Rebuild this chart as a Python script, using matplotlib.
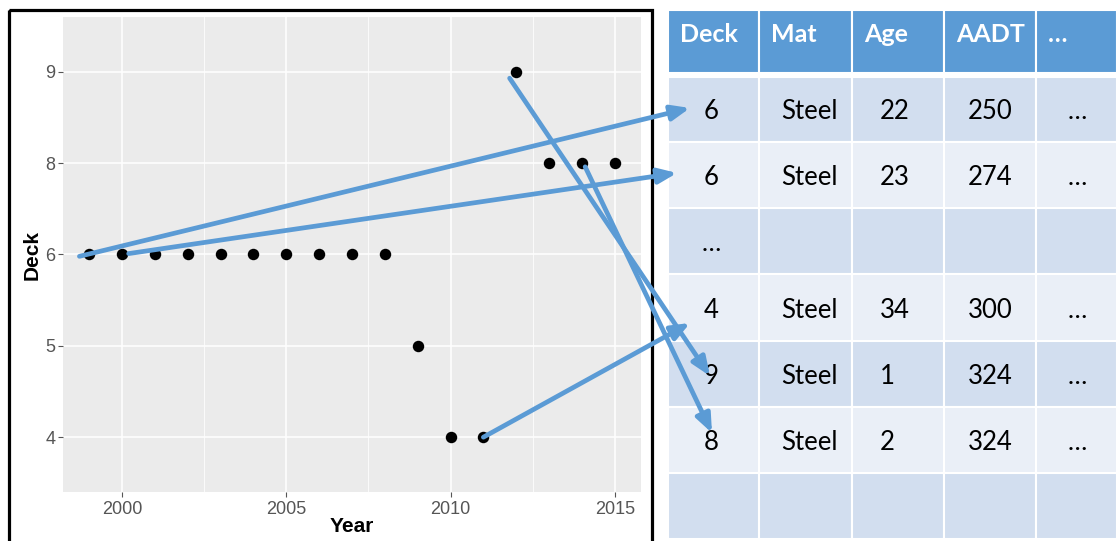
import matplotlib
matplotlib.use("Agg")
import matplotlib.pyplot as plt
from matplotlib.patches import Rectangle

# scatter data
years = [1999, 2000, 2001, 2002, 2003, 2004, 2005, 2006, 2007, 2008,
         2009, 2010, 2011, 2012, 2013, 2014, 2015]
deck = [6, 6, 6, 6, 6, 6, 6, 6, 6, 6, 5, 4, 4, 9, 8, 8, 8]
deck_levels = [4, 5, 6, 8, 9]   # ggplot factor levels (no 7)

# table data
header = ["Deck", "Mat", "Age", "AADT", "…"]
rows = [
    ["6", "Steel", "22", "250", "…"],
    ["6", "Steel", "23", "274", "…"],
    ["…", "", "", "", ""],
    ["4", "Steel", "34", "300", "…"],
    ["9", "Steel", "1", "324", "…"],
    ["8", "Steel", "2", "324", "…"],
    ["", "", "", "", ""],
]

# arrows: from (year, deck) in the plot to a row of the table
arrow_year = [1998.7, 2000.2, 2011.8, 2014.1, 2011.0]
arrow_deck = [6, 6, 9, 8, 4]
arrow_dy = [-0.02, 0.01, -0.07, -0.04, 0.0]
arrow_row = [0, 1, 4, 5, 3]
arrow_tip = [(690, 108), (677, 173), (710, 376), (712, 433), (690, 323)]

blue = "#5B9BD5"
row_dark = "#D2DEEF"
row_light = "#EAEFF7"

W, H = 1117, 541
fig = plt.figure(figsize=(W / 100, H / 100), dpi=100)
fig.patch.set_facecolor("white")

# ---- ggplot-like scatter ----
l, t, r, b = 63, 17, 641, 492
ax = fig.add_axes([l / W, 1 - b / H, (r - l) / W, (b - t) / H], zorder=1)
ax.set_facecolor("#EBEBEB")
yidx = [deck_levels.index(d) for d in deck]
ax.scatter(years, yidx, s=68, color="black", zorder=3, linewidths=0)
ax.set_xlim(1999 - 0.8, 2015 + 0.8)
ax.set_ylim(-0.6, len(deck_levels) - 1 + 0.6)
ax.set_xticks([2000, 2005, 2010, 2015])
ax.set_xticks([2002.5, 2007.5, 2012.5], minor=True)
ax.set_yticks(range(len(deck_levels)))
ax.set_yticklabels([str(d) for d in deck_levels])
ax.grid(True, which="major", color="white", lw=1.1, zorder=0)
ax.grid(True, which="minor", axis="x", color="white", lw=0.55, zorder=0)
ax.set_axisbelow(True)
for s in ax.spines.values():
    s.set_visible(False)
ax.tick_params(which="major", length=3.6, width=0.8, color="#555555",
               labelcolor="#555555", labelsize=13, pad=2)
ax.tick_params(axis="x", pad=3)
ax.tick_params(which="minor", length=0)
for lab in ax.get_xticklabels() + ax.get_yticklabels():
    lab.set_family(["Liberation Sans", "DejaVu Sans"])
ax.set_xlabel("Year", fontsize=15, fontweight="bold",
              family=["Liberation Sans", "DejaVu Sans"])
ax.set_ylabel("Deck", fontsize=15, fontweight="bold",
              family=["Liberation Sans", "DejaVu Sans"])
ax.xaxis.set_label_coords(0.5, (b - 526) / (b - t))
ax.xaxis.label.set_va("center")
ax.yaxis.set_label_coords((32.5 - l) / (r - l), 0.5)
ax.yaxis.label.set_va("center")

# ---- overlay in pixel coords: border, table, arrows ----
ov = fig.add_axes([0, 0, 1, 1], zorder=5)
ov.set_xlim(0, W)
ov.set_ylim(H, 0)
ov.axis("off")
ov.patch.set_alpha(0)

ov.add_patch(Rectangle((8.5, 9.5), 643, 600, fill=False, ec="black",
                       lw=2.3, clip_on=False, zorder=2))

col_edges = [668, 759, 852, 944, 1036, 1117]
row_edges = [77, 142, 208, 274, 341, 407, 473, 539]
head_top, head_bot = 10, 73

for j in range(len(header)):
    x0, x1 = col_edges[j], col_edges[j + 1]
    ov.add_patch(Rectangle((x0, head_top), x1 - x0, head_bot - head_top,
                           fc=blue, ec="white", lw=1.5, zorder=1))
    ov.text(x0 + 12, 34, header[j], color="white", fontsize=18,
            fontweight="bold", family=["Lato", "DejaVu Sans"],
            ha="left", va="center", zorder=3)

col_x = [711, 809, 880, 990, 1077]
col_ha = ["center", "center", "left", "center", "center"]
for i, row in enumerate(rows):
    y0, y1 = row_edges[i], row_edges[i + 1]
    fc = row_dark if i % 2 == 0 else row_light
    for j in range(len(row)):
        x0, x1 = col_edges[j], col_edges[j + 1]
        ov.add_patch(Rectangle((x0, y0), x1 - x0, y1 - y0,
                               fc=fc, ec="white", lw=1.5, zorder=1))
        if row[j]:
            ov.text(col_x[j], y1 - 23, row[j], color="black", fontsize=18.5,
                    family=["Lato", "DejaVu Sans"], ha=col_ha[j],
                    va="baseline", zorder=3)

for k in range(len(arrow_year)):
    y_from = deck_levels.index(arrow_deck[k]) + arrow_dy[k]
    ov.annotate("", xy=arrow_tip[k], xycoords=ov.transData,
                xytext=(arrow_year[k], y_from), textcoords=ax.transData,
                annotation_clip=False, zorder=6,
                arrowprops=dict(arrowstyle="-|>,head_length=1.1,head_width=0.45",
                                lw=3.4, color=blue, shrinkA=0, shrinkB=0))

fig.savefig("out.png", dpi=100)
